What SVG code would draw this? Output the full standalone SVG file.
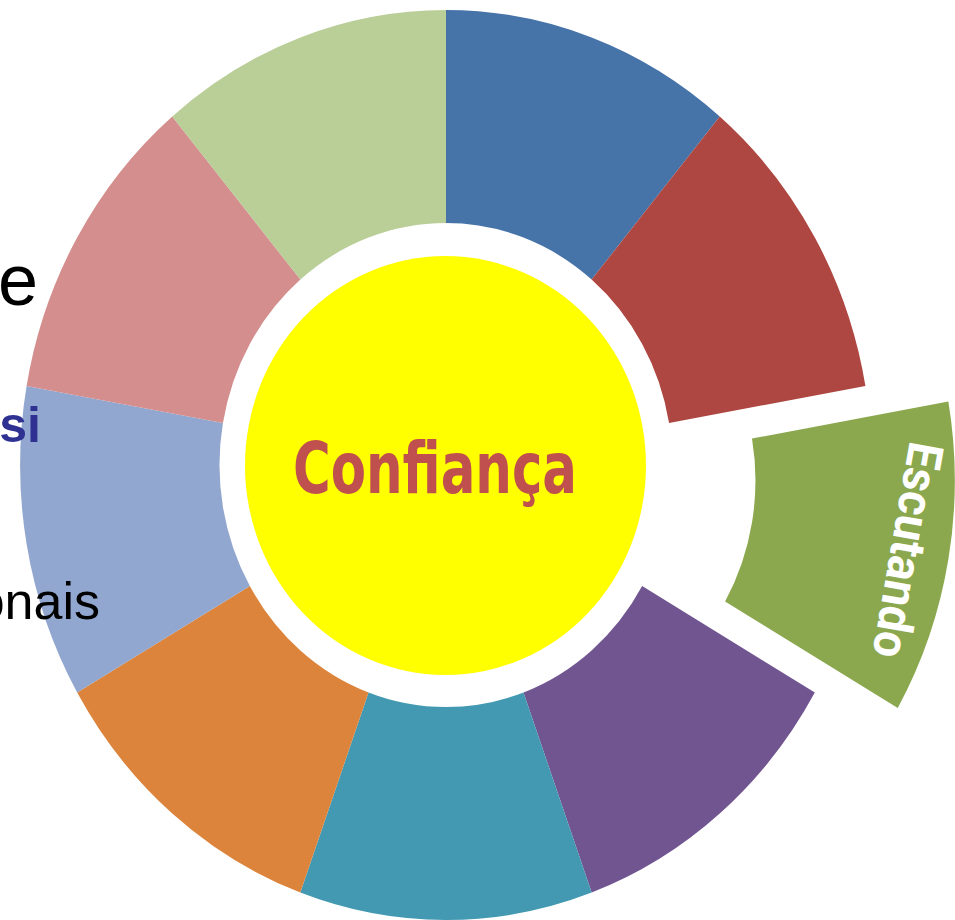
<svg xmlns="http://www.w3.org/2000/svg" width="955" height="920" viewBox="0 0 955 920">
<style>
.lbl{font-family:"Liberation Sans",Arial,sans-serif;}
.center{font-family:"Liberation Sans Narrow","DejaVu Sans Condensed","Liberation Sans",sans-serif;font-weight:bold;fill:#C0504D;}
.seg-text{font-family:Roboto,"Open Sans",sans-serif;font-weight:700;fill:#ffffff;}
</style>
<rect width="955" height="920" fill="#ffffff"/>
<g id="ring" transform="translate(446,465) scale(0.936,1)">
  <g id="seg-blue"><path fill="#4673A8" d="M0,-455 A455,455 0 0 1 292.47,-348.55 L155.56,-185.38 A242,242 0 0 0 0,-242 Z"/></g>
  <g id="seg-red"><path fill="#AE4641" d="M292.47,-348.55 A455,455 0 0 1 448.09,-79.01 L238.32,-42.02 A242,242 0 0 0 155.56,-185.38 Z"/></g>
  <g id="seg-escutando" transform="translate(88.6,15.6)"><path fill="#8BA84E" d="M448.09,-79.01 A455,455 0 0 1 394.04,227.5 L209.58,121 A242,242 0 0 0 238.32,-42.02 Z"/></g>
  <g id="seg-purple"><path fill="#715590" d="M394.04,227.5 A455,455 0 0 1 155.62,427.56 L82.77,227.41 A242,242 0 0 0 209.58,121 Z"/></g>
  <g id="seg-teal"><path fill="#4299B1" d="M155.62,427.56 A455,455 0 0 1 -155.62,427.56 L-82.77,227.41 A242,242 0 0 0 82.77,227.41 Z"/></g>
  <g id="seg-orange"><path fill="#DC843B" d="M-155.62,427.56 A455,455 0 0 1 -394.04,227.5 L-209.58,121 A242,242 0 0 0 -82.77,227.41 Z"/></g>
  <g id="seg-lightblue"><path fill="#91A7CF" d="M-394.04,227.5 A455,455 0 0 1 -448.09,-79.01 L-238.32,-42.02 A242,242 0 0 0 -209.58,121 Z"/></g>
  <g id="seg-pink"><path fill="#D38E8D" d="M-448.09,-79.01 A455,455 0 0 1 -292.47,-348.55 L-155.56,-185.38 A242,242 0 0 0 -238.32,-42.02 Z"/></g>
  <g id="seg-lightgreen"><path fill="#BACE98" d="M-292.47,-348.55 A455,455 0 0 1 0,-455 L0,-242 A242,242 0 0 0 -155.56,-185.38 Z"/></g>
</g>
<g id="label-escutando">
  <text class="seg-text" font-size="49" transform="translate(910,440) rotate(100)" textLength="218" lengthAdjust="spacingAndGlyphs">Escutando</text>
</g>
<g id="center-node">
  <ellipse cx="445.5" cy="465.5" rx="200.5" ry="209.5" fill="#FFFF00"/>
  <text class="center" x="435" y="493" font-size="71" text-anchor="middle" textLength="284" lengthAdjust="spacingAndGlyphs">Confiança</text>
</g>
<g id="side-texts">
  <text class="lbl" x="38" y="305" font-size="72" text-anchor="end" fill="#000000">e</text>
  <text class="lbl" x="41" y="442" font-size="50" font-weight="bold" text-anchor="end" fill="#2E3192">si</text>
  <text class="lbl" x="100" y="619" font-size="52" text-anchor="end" fill="#000000">onais</text>
</g>
</svg>
